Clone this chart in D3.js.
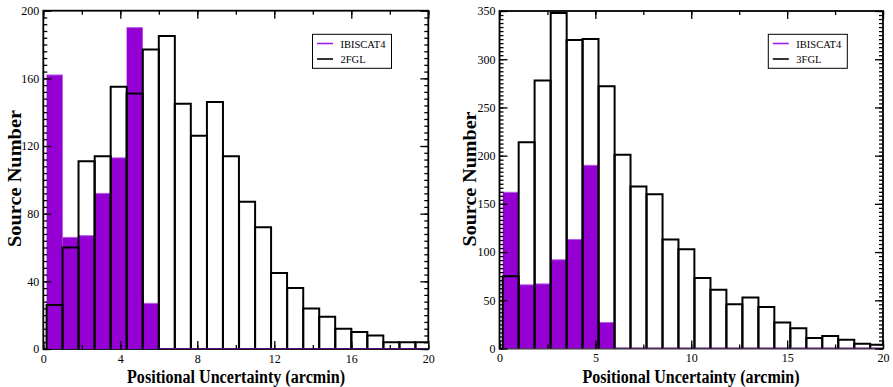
<!DOCTYPE html>
<html>
<head>
<meta charset="utf-8">
<script src="https://cdn.jsdelivr.net/npm/d3@7"></script>
<style>
  body { margin: 0; background: #fff; }
  svg { display: block; }
  text { font-family: "Liberation Serif", "DejaVu Serif", serif; }
</style>
</head>
<body>
<svg id="chart" width="893" height="387"></svg>
<script>
// lower edge of each histogram bin (arcmin), bins are ~0.833 wide
const binEdges = [0.17, 1.0, 1.83, 2.67, 3.5, 4.33, 5.17, 6.0, 6.83, 7.67, 8.5, 9.33,
                  10.17, 11.0, 11.83, 12.67, 13.5, 14.33, 15.17, 16.0, 16.83, 17.67, 18.5, 19.33]
const binWidth = 0.833

// IBISCAT4 counts (same in both panels)
const ibiscat4 = [162, 66, 67, 92, 113, 190, 27, 0, 0, 0, 0, 0,
                  0, 0, 0, 0, 0, 0, 0, 0, 0, 0, 0, 0]
// 2FGL counts
const fgl2 = [26, 60, 111, 114, 155, 151, 177, 185, 145, 126, 146, 114,
              87, 72, 45, 36, 24, 19, 12, 10, 8, 4, 4, 4]
// 3FGL counts
const fgl3 = [75, 214, 278, 348, 320, 321, 272, 201, 168, 160, 113, 103,
              73, 61, 46, 53, 43, 27, 21, 11, 13, 9, 5, 4]

const leftYTicks = [0, 40, 80, 120, 160, 200]
const leftXTicks = [0, 4, 8, 12, 16, 20]
const rightYTicks = [0, 50, 100, 150, 200, 250, 300, 350]
const rightXTicks = [0, 5, 10, 15, 20]

const purple = "#9400d3"
const purpleLine = "#a020f0"

const svg = d3.select("#chart")

function drawPanel(p) {
    const x = d3.scaleLinear().domain([0, 20]).range([p.x0, p.x1])
    const y = d3.scaleLinear().domain([0, p.ymax]).range([p.y0, p.y1])
    const g = svg.append("g")

    const clipId = "clip" + p.id
    svg.append("clipPath").attr("id", clipId)
        .append("rect")
        .attr("x", p.x0).attr("y", p.y1)
        .attr("width", p.x1 - p.x0).attr("height", p.y0 - p.y1)

    // frame first, bars go over it, ticks go over everything
    g.append("rect")
        .attr("x", p.x0).attr("y", p.y1)
        .attr("width", p.x1 - p.x0).attr("height", p.y0 - p.y1)
        .attr("fill", "none").attr("stroke", "#000").attr("stroke-width", 1.8)

    const bars = g.append("g").attr("clip-path", `url(#${clipId})`)
    const bins = binEdges.map((e, i) => ({x0: e, x1: e + binWidth, ref: p.ref[i], ib: ibiscat4[i]}))

    // white fill of catalogue histogram
    bars.selectAll(".reffill").data(bins).enter().append("rect")
        .attr("x", d => x(d.x0)).attr("width", d => x(d.x1) - x(d.x0))
        .attr("y", d => y(d.ref)).attr("height", d => y(0) - y(d.ref))
        .attr("fill", "#fff")

    // IBISCAT4 filled bars
    bars.selectAll(".ib").data(bins.filter(d => d.ib > 0)).enter().append("rect")
        .attr("x", d => x(d.x0)).attr("width", d => x(d.x1) - x(d.x0))
        .attr("y", d => y(d.ib)).attr("height", d => y(0) - y(d.ib))
        .attr("fill", purple)
    bars.selectAll(".ibtop").data(bins.filter(d => d.ib > 0)).enter().append("line")
        .attr("x1", d => x(d.x0)).attr("x2", d => x(d.x1))
        .attr("y1", d => y(d.ib)).attr("y2", d => y(d.ib))
        .attr("stroke", "#b35ee6").attr("stroke-width", 1)

    // black outlines of catalogue histogram (top + sides)
    bars.selectAll(".refline").data(bins).enter().append("path")
        .attr("d", d => `M${x(d.x0)},${y(0)}V${y(d.ref)}H${x(d.x1)}V${y(0)}`)
        .attr("fill", "none").attr("stroke", "#000").attr("stroke-width", 2)

    // zero-height IBISCAT4 bins show as a line on the baseline
    bars.selectAll(".ibzero").data(bins.filter(d => d.ib === 0)).enter().append("line")
        .attr("x1", d => x(d.x0)).attr("x2", d => x(d.x1))
        .attr("y1", y(0) - 0.5).attr("y2", y(0) - 0.5)
        .attr("stroke", "#5a0a80").attr("stroke-width", 1.2)

    const axes = svg.append("g")
    function ax(gen, tx, ty) {
        const a = axes.append("g").attr("transform", `translate(${tx},${ty})`).call(gen)
        a.select(".domain").remove()
        a.selectAll("line").attr("stroke", "#000").attr("stroke-width", 1.3)
        a.selectAll("text").attr("font-size", 12).attr("fill", "#000")
        return a
    }
    const minorX = d3.range(0, 20.001, p.xMinor)
    const minorY = d3.range(0, p.ymax + 0.001, p.yMinor)

    ax(d3.axisBottom(x).tickValues(p.xTicks).tickSize(-8).tickPadding(5).tickFormat(d3.format("d")), 0, p.y0)
    ax(d3.axisBottom(x).tickValues(minorX).tickSize(-4).tickFormat(""), 0, p.y0)
    ax(d3.axisTop(x).tickValues(p.xTicks).tickSize(-8).tickFormat(""), 0, p.y1)
    ax(d3.axisTop(x).tickValues(minorX).tickSize(-4).tickFormat(""), 0, p.y1)
    ax(d3.axisLeft(y).tickValues(p.yTicks).tickSize(-8).tickPadding(4).tickFormat(d3.format("d")), p.x0, 0)
    ax(d3.axisLeft(y).tickValues(minorY).tickSize(-4).tickFormat(""), p.x0, 0)
    ax(d3.axisRight(y).tickValues(p.yTicks).tickSize(-8).tickFormat(""), p.x1, 0)
    ax(d3.axisRight(y).tickValues(minorY).tickSize(-4).tickFormat(""), p.x1, 0)

    // axis titles
    svg.append("text")
        .attr("x", p.xTitleX).attr("y", 382.5)
        .attr("text-anchor", "middle")
        .attr("font-size", 18).attr("font-weight", "bold")
        .attr("textLength", p.xTitleLen).attr("lengthAdjust", "spacingAndGlyphs")
        .text("Positional Uncertainty (arcmin)")
    svg.append("text")
        .attr("transform", `translate(${p.yTitleX},${p.yTitleY}) rotate(-90)`)
        .attr("text-anchor", "middle")
        .attr("font-size", 19).attr("font-weight", "bold")
        .attr("textLength", p.yTitleLen).attr("lengthAdjust", "spacingAndGlyphs")
        .text("Source Number")

    // legend
    const lg = svg.append("g")
    lg.append("rect")
        .attr("x", p.legX).attr("y", 34.3).attr("width", 79).attr("height", 34)
        .attr("fill", "#fff").attr("stroke", "#000").attr("stroke-width", 1)
    const items = [{name: "IBISCAT4", color: purpleLine}, {name: p.refName, color: "#000"}]
    items.forEach((it, i) => {
        const yy = 43.5 + i * 15.5
        lg.append("line")
            .attr("x1", p.legX + 4.5).attr("x2", p.legX + 20.5)
            .attr("y1", yy).attr("y2", yy)
            .attr("stroke", it.color).attr("stroke-width", 1.6)
        lg.append("text")
            .attr("x", p.legX + 28).attr("y", yy + 4)
            .attr("font-size", 10.5).attr("fill", "#000")
            .text(it.name)
    })
}

drawPanel({id: "L", x0: 43.3, x1: 428.3, y0: 349, y1: 10.7, ymax: 200,
    ref: fgl2, refName: "2FGL", xTicks: leftXTicks, yTicks: leftYTicks, xMinor: 2, yMinor: 4,
    xTitleX: 236, xTitleLen: 218, yTitleX: 20.5, yTitleY: 178.5, yTitleLen: 137, legX: 312.5})

drawPanel({id: "R", x0: 499.5, x1: 883, y0: 348.5, y1: 11, ymax: 350,
    ref: fgl3, refName: "3FGL", xTicks: rightXTicks, yTicks: rightYTicks, xMinor: 2.5, yMinor: 50 / 12,
    xTitleX: 691, xTitleLen: 217, yTitleX: 475.5, yTitleY: 179, yTitleLen: 135, legX: 768.3})
</script>
</body>
</html>
